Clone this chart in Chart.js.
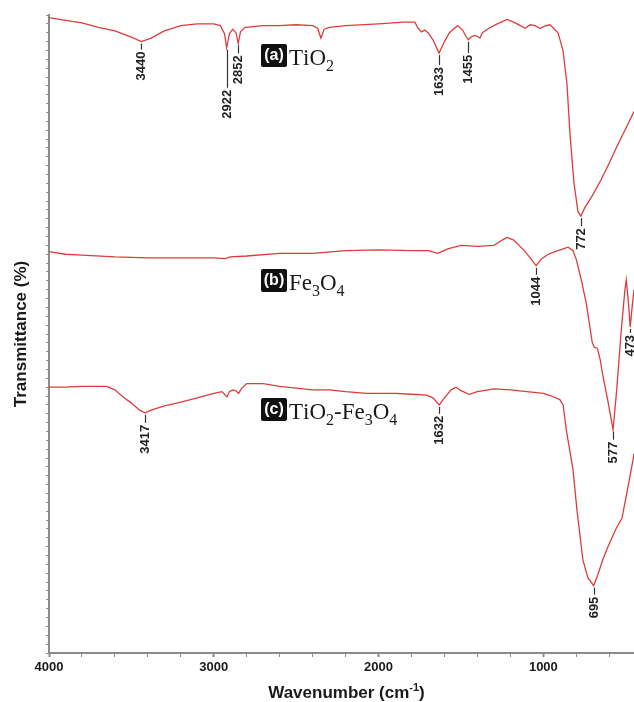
<!DOCTYPE html>
<html>
<head>
<meta charset="utf-8">
<title>FTIR spectra</title>
<script src="https://cdn.jsdelivr.net/npm/chart.js@4.4.0/dist/chart.umd.min.js"></script>
<style>
  body { margin: 0; background: #fff; }
  canvas { display: block; }
</style>
</head>
<body>
<canvas id="ftirChart" width="634" height="702"></canvas>
<script>
/* --- Data --- */
// (a) TiO2
const tio2Wn = [4000, 3900, 3800, 3700, 3600, 3500, 3440, 3380, 3300, 3200, 3100, 3000, 2960, 2935, 2922, 2905, 2885, 2865, 2852, 2838, 2810, 2700, 2600, 2500, 2400, 2370, 2350, 2330, 2300, 2200, 2000, 1850, 1780, 1760, 1740, 1720, 1700, 1670, 1633, 1600, 1570, 1540, 1520, 1490, 1470, 1455, 1440, 1420, 1400, 1385, 1370, 1330, 1280, 1220, 1180, 1140, 1110, 1080, 1050, 1020, 985, 960, 911, 881, 857, 839, 814, 790, 772, 750, 700, 650, 600, 550, 500, 450];
const tio2T  = [71.7, 71.4, 71.1, 70.6, 70.2, 69.5, 69.0, 69.4, 70.2, 70.8, 71.0, 71.0, 70.8, 69.9, 68.3, 69.9, 70.4, 70.0, 68.8, 70.1, 70.6, 70.8, 70.8, 70.9, 70.8, 70.5, 69.4, 70.4, 70.6, 70.8, 71.0, 71.2, 71.2, 70.5, 70.1, 70.3, 70.0, 69.2, 67.7, 69.0, 70.0, 70.5, 70.8, 70.3, 69.6, 69.2, 69.5, 69.7, 69.6, 69.4, 70.0, 70.5, 71.0, 71.5, 71.2, 70.8, 70.5, 70.9, 70.8, 70.5, 70.8, 70.9, 70.0, 68.0, 64.3, 58.7, 53.0, 49.8, 49.3, 50.2, 51.7, 53.4, 55.3, 57.3, 59.2, 61.1];

// (b) Fe3O4
const fe3o4Wn = [4000, 3900, 3800, 3600, 3400, 3200, 3000, 2930, 2900, 2800, 2600, 2400, 2200, 2000, 1800, 1700, 1640, 1580, 1500, 1400, 1300, 1250, 1220, 1180, 1120, 1080, 1044, 1010, 970, 930, 880, 850, 820, 800, 770, 740, 703, 690, 673, 655, 642, 610, 577, 555, 527, 505, 497, 485, 473, 460, 450];
const fe3o4T  = [45.3, 45.0, 44.9, 44.7, 44.6, 44.6, 44.6, 44.5, 44.7, 44.8, 45.1, 45.1, 45.4, 45.5, 45.4, 45.4, 45.1, 45.6, 46.0, 45.9, 46.0, 46.6, 46.9, 46.6, 45.5, 44.6, 43.7, 44.5, 45.0, 45.3, 45.6, 45.8, 45.4, 44.4, 42.1, 39.5, 35.0, 34.5, 34.4, 33.1, 31.6, 28.6, 25.2, 29.7, 36.5, 41.0, 42.1, 39.8, 36.8, 39.3, 41.0];

// (c) TiO2-Fe3O4
const compWn = [4000, 3900, 3800, 3700, 3650, 3600, 3550, 3500, 3450, 3417, 3380, 3300, 3200, 3100, 3000, 2950, 2935, 2920, 2905, 2885, 2865, 2850, 2830, 2800, 2700, 2600, 2500, 2400, 2300, 2200, 2073, 1900, 1800, 1709, 1670, 1632, 1600, 1560, 1530, 1500, 1450, 1400, 1300, 1200, 1100, 1000, 950, 900, 880, 861, 840, 820, 796, 760, 730, 695, 670, 640, 608, 560, 523, 487, 456, 450];
const compT  = [30.0, 30.0, 30.1, 30.1, 30.1, 29.7, 28.9, 28.2, 27.4, 27.1, 27.4, 27.9, 28.3, 28.8, 29.3, 29.5, 29.2, 28.9, 29.5, 29.7, 29.6, 29.3, 29.9, 30.4, 30.4, 30.1, 29.9, 29.7, 29.7, 29.5, 29.3, 29.3, 29.2, 29.1, 28.8, 28.0, 28.8, 29.7, 30.0, 29.6, 29.2, 29.5, 29.8, 29.7, 29.5, 29.3, 29.0, 28.6, 28.0, 25.2, 22.9, 20.7, 16.1, 10.5, 8.5, 7.6, 8.8, 10.5, 12.0, 14.0, 15.2, 18.7, 21.8, 22.5];

// Marked peaks: which series, wavenumber
const peakSeries = [0, 0, 0, 0, 0, 0, 1, 1, 1, 2, 2, 2];
const peakWn     = [3440, 2922, 2852, 1633, 1455, 772, 1044, 577, 473, 3417, 1632, 695];

// Sample labels
const sampleTags  = ['(a)', '(b)', '(c)'];
const sampleNames = ['TiO2', 'Fe3O4', 'TiO2-Fe3O4'];

// Axis ticks
const xTicks = [4000, 3800, 3600, 3400, 3200, 3000, 2800, 2600, 2400, 2200, 2000, 1800, 1600, 1400, 1200, 1000, 800, 600];
const yTicks = [];
for (let v = 0; v <= 72; v++) yTicks.push(v);

/* --- Style / placement --- */
const lineColor = '#de3c3c';
const axisColor = '#8c8c8c';
const peakTickLen = [8, 40, 10, 12, 13, 10, 9, 10, 6, 10, 9, 9];
const sampleLabelWn = [2714, 2714, 2714];      // box left edge
const sampleLabelT  = [68.7, 43.3, 28.8];      // box top edge
const sansFont = '"Liberation Sans", Arial, sans-serif';
const serifFont = '"Liberation Serif", "Times New Roman", serif';

const seriesWn = [tio2Wn, fe3o4Wn, compWn];
const seriesT  = [tio2T, fe3o4T, compT];

function toPoints(wn, t) {
    return wn.map((w, i) => ({ x: w, y: t[i] }));
}

// value of a series at a wavenumber (for placing the peak marks)
function valueAt(idx, w) {
    const wn = seriesWn[idx], t = seriesT[idx];
    for (let i = 0; i < wn.length - 1; i++) {
        if (w <= wn[i] && w >= wn[i + 1]) {
            const f = (wn[i] - w) / (wn[i] - wn[i + 1]);
            return t[i] + f * (t[i + 1] - t[i]);
        }
    }
    return t[t.length - 1];
}

/* --- Annotation plugin --- */
const annotations = {
    id: 'annotations',
    afterDatasetsDraw(chart) {
        const { ctx, scales: { x, y } } = chart;
        ctx.save();

        // peak marks
        ctx.strokeStyle = '#333';
        ctx.lineWidth = 1.2;
        ctx.fillStyle = '#222';
        ctx.font = 'bold 13px ' + sansFont;
        peakWn.forEach((w, i) => {
            const px = Math.round(x.getPixelForValue(w)) + 0.5;
            const py = y.getPixelForValue(valueAt(peakSeries[i], w));
            ctx.beginPath();
            ctx.moveTo(px, py + 2);
            ctx.lineTo(px, py + peakTickLen[i]);
            ctx.stroke();
            ctx.save();
            ctx.translate(px, py + peakTickLen[i] + 2);
            ctx.rotate(-Math.PI / 2);
            ctx.textAlign = 'right';
            ctx.textBaseline = 'middle';
            ctx.fillText(String(w), 0, 0);
            ctx.restore();
        });

        // sample labels
        sampleTags.forEach((tag, i) => {
            const bx = Math.round(x.getPixelForValue(sampleLabelWn[i]));
            const by = Math.round(y.getPixelForValue(sampleLabelT[i]));
            ctx.fillStyle = '#111';
            ctx.beginPath();
            ctx.roundRect(bx, by, 26, 23, 2);
            ctx.fill();
            ctx.fillStyle = '#fff';
            ctx.font = 'bold 16px ' + sansFont;
            ctx.textAlign = 'center';
            ctx.textBaseline = 'middle';
            ctx.fillText(tag, bx + 13, by + 12);

            ctx.fillStyle = '#1a1a1a';
            ctx.textAlign = 'left';
            ctx.textBaseline = 'alphabetic';
            let cx = bx + 28;
            const base = by + 21;
            for (const ch of sampleNames[i]) {
                const sub = /[0-9]/.test(ch);
                ctx.font = (sub ? '16px ' : '23px ') + serifFont;
                ctx.fillText(ch, cx, sub ? base + 6 : base);
                cx += ctx.measureText(ch).width;
            }
        });

        // x axis title with superscript
        ctx.fillStyle = '#1a1a1a';
        ctx.textBaseline = 'alphabetic';
        const parts = [
            { t: 'Wavenumber (cm', f: 'bold 17px ' + sansFont, dy: 0 },
            { t: '-1', f: 'bold 11px ' + sansFont, dy: -7 },
            { t: ')', f: 'bold 17px ' + sansFont, dy: 0 }
        ];
        let total = 0;
        parts.forEach(p => { ctx.font = p.f; total += ctx.measureText(p.t).width; });
        let tx = (x.left + x.right) / 2 + 5 - total / 2;
        parts.forEach(p => {
            ctx.font = p.f;
            ctx.textAlign = 'left';
            ctx.fillText(p.t, tx, 698 + p.dy);
            tx += ctx.measureText(p.t).width;
        });

        ctx.restore();
    }
};

/* --- Chart --- */
const ctx = document.getElementById('ftirChart').getContext('2d');
new Chart(ctx, {
    type: 'line',
    data: {
        datasets: seriesWn.map((wn, i) => ({
            label: sampleNames[i],
            data: toPoints(wn, seriesT[i]),
            borderColor: lineColor,
            borderWidth: 1.3,
            pointRadius: 0,
            tension: 0,
            fill: false
        }))
    },
    options: {
        responsive: false,
        animation: false,
        devicePixelRatio: 1,
        layout: { padding: { top: 15, left: 0, right: 0, bottom: 0 } },
        plugins: {
            legend: { display: false },
            tooltip: { enabled: false }
        },
        scales: {
            x: {
                type: 'linear',
                reverse: true,
                min: 450,
                max: 4000,
                afterBuildTicks: (scale) => { scale.ticks = xTicks.map(v => ({ value: v })); },
                afterFit: (scale) => { scale.height = 49; },
                border: { display: true, color: axisColor, width: 2 },
                grid: {
                    drawOnChartArea: false,
                    drawTicks: true,
                    tickLength: 4,
                    tickColor: axisColor,
                    tickWidth: (c) => (c.tick && c.tick.value % 1000 === 0 ? 2 : 1)
                },
                ticks: {
                    autoSkip: false,
                    maxRotation: 0,
                    padding: 3,
                    color: '#1a1a1a',
                    font: { family: sansFont, size: 13, weight: 'bold' },
                    callback: (v) => (v % 1000 === 0 ? String(v) : '')
                },
                title: { display: false }
            },
            y: {
                type: 'linear',
                min: 0,
                max: 72,
                afterBuildTicks: (scale) => { scale.ticks = yTicks.map(v => ({ value: v })); },
                afterFit: (scale) => { scale.width = 49; },
                border: { display: true, color: axisColor, width: 2 },
                grid: {
                    drawOnChartArea: false,
                    drawTicks: true,
                    tickLength: 3,
                    tickColor: axisColor
                },
                ticks: { display: false },
                title: {
                    display: true,
                    text: 'Transmittance (%)',
                    color: '#1a1a1a',
                    font: { family: sansFont, size: 17, weight: 'bold' },
                    padding: { top: 11, bottom: 0 }
                }
            }
        }
    },
    plugins: [annotations]
});
</script>
</body>
</html>
